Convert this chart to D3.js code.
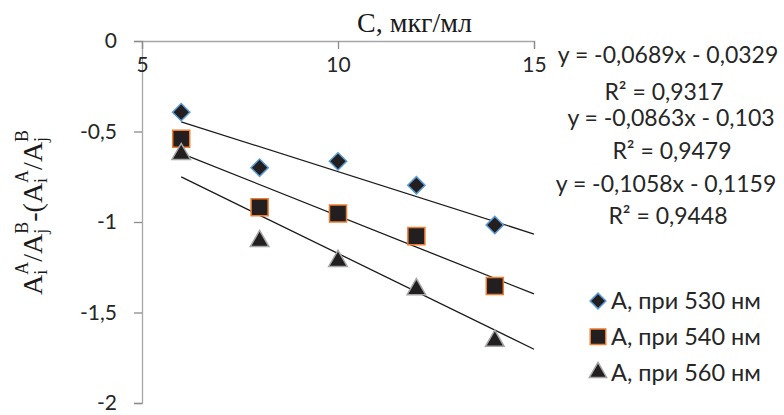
<!DOCTYPE html>
<html>
<head>
<meta charset="utf-8">
<script src="https://cdn.jsdelivr.net/npm/d3@7"></script>
<style>
  body { margin: 0; background: #fff; }
  svg { display: block; }
</style>
</head>
<body>
<div id="chart"></div>
<script>
// concentrations, C (мкг/мл)
var conc = [6, 8, 10, 12, 14];

// measured values for each wavelength
var a530 = [-0.393, -0.700, -0.665, -0.797, -1.017];
var a540 = [-0.540, -0.918, -0.953, -1.078, -1.354];
var a560 = [-0.625, -1.106, -1.216, -1.372, -1.657];

var seriesNames = ["A, при 530 нм", "A, при 540 нм", "A, при 560 нм"];

// trendline coefficients (slope, intercept) and R² as printed
var slopes = [-0.0689, -0.0863, -0.1058];
var intercepts = [-0.0329, -0.103, -0.1159];
var r2 = [0.9317, 0.9479, 0.9448];

var xTicks = [5, 10, 15];
var yTicks = [0, -0.5, -1, -1.5, -2];

var W = 784, H = 415;
var margin = { top: 41, left: 142 },
    width = 392,
    height = 362;

var svg = d3.select("#chart").append("svg")
    .attr("width", W)
    .attr("height", H);

var x = d3.scaleLinear().domain([5, 15]).range([margin.left, margin.left + width]);
var y = d3.scaleLinear().domain([0, -2]).range([margin.top, margin.top + height]);

var fmt = function(d) { return String(d).replace(".", ","); };
var numFont = "Lato, 'Open Sans', sans-serif";

// y axis
var yaxis = svg.append("g")
    .attr("transform", "translate(" + margin.left + ",0)")
    .call(d3.axisLeft(y).tickValues(yTicks).tickFormat(fmt).tickSize(8).tickPadding(17));

// x axis runs along y = 0, at the top
var xaxis = svg.append("g")
    .attr("transform", "translate(0," + y(0) + ")")
    .call(d3.axisBottom(x).tickValues(xTicks).tickSize(8).tickPadding(8));

[xaxis, yaxis].forEach(function(ax) {
    ax.select(".domain").attr("stroke", "#a6a6a6").attr("stroke-width", 1.3);
    ax.selectAll(".tick line").attr("stroke", "#8c8c8c").attr("stroke-width", 1.3);
    ax.selectAll("text")
        .attr("fill", "#262626")
        .attr("font-family", numFont)
        .attr("font-size", 21);
});

// trendlines, from first point to the end of the axis
var series = [a530, a540, a560];
var trend = svg.append("g");
for (var i = 0; i < series.length; i++) {
    var x0 = d3.min(conc), x1 = 15;
    trend.append("line")
        .attr("x1", x(x0))
        .attr("y1", y(slopes[i] * x0 + intercepts[i]))
        .attr("x2", x(x1))
        .attr("y2", y(slopes[i] * x1 + intercepts[i]))
        .attr("stroke", "#1a1a1a")
        .attr("stroke-width", 1.3);
}

// markers
var markers = [
    { type: d3.symbolSquare, size: 150, rotate: 45, stroke: "#5b9bd5" },
    { type: d3.symbolSquare, size: 290, rotate: 0, stroke: "#ed7d31" },
    { type: d3.symbolTriangle, size: 150, rotate: 0, stroke: "#a5a5a5" }
];
var legendMarkers = [
    { type: d3.symbolSquare, size: 125, rotate: 45, stroke: "#5b9bd5" },
    { type: d3.symbolSquare, size: 240, rotate: 0, stroke: "#ed7d31" },
    { type: d3.symbolTriangle, size: 130, rotate: 0, stroke: "#a5a5a5" }
];

series.forEach(function(vals, si) {
    var m = markers[si];
    svg.append("g").selectAll("path")
        .data(vals)
        .enter()
        .append("path")
        .attr("d", d3.symbol().type(m.type).size(m.size))
        .attr("transform", function(d, j) {
            return "translate(" + x(conc[j]) + "," + y(d) + ") rotate(" + m.rotate + ")";
        })
        .attr("fill", "#231f20")
        .attr("stroke", m.stroke)
        .attr("stroke-width", 1.5);
});

// trendline equations
var eqFont = 23;
var eqRows = [
    { t: "y = " + fmt(slopes[0]) + "x - " + fmt(-intercepts[0]), cx: 668, by: 63 },
    { t: "R² = " + fmt(r2[0]), cx: 664, by: 100 },
    { t: "y = " + fmt(slopes[1]) + "x - " + fmt(-intercepts[1]), cx: 671, by: 126 },
    { t: "R² = " + fmt(r2[1]), cx: 672, by: 159 },
    { t: "y = " + fmt(slopes[2]) + "x - " + fmt(-intercepts[2]), cx: 666, by: 192 },
    { t: "R² = " + fmt(r2[2]), cx: 668, by: 224 }
];
svg.append("g").selectAll("text")
    .data(eqRows)
    .enter()
    .append("text")
    .attr("x", function(d) { return d.cx; })
    .attr("y", function(d) { return d.by; })
    .attr("text-anchor", "middle")
    .attr("font-family", numFont)
    .attr("font-size", eqFont)
    .attr("fill", "#262626")
    .text(function(d) { return d.t; });

// legend
var legend = svg.append("g").attr("transform", "translate(598,301)");
seriesNames.forEach(function(name, i) {
    var m = legendMarkers[i];
    var row = legend.append("g").attr("transform", "translate(0," + (i * 35.7) + ")");
    row.append("path")
        .attr("d", d3.symbol().type(m.type).size(m.size))
        .attr("transform", "rotate(" + m.rotate + ")")
        .attr("fill", "#231f20")
        .attr("stroke", m.stroke)
        .attr("stroke-width", 1.5);
    row.append("text")
        .attr("x", 13)
        .attr("dy", "0.36em")
        .attr("font-family", numFont)
        .attr("font-size", 23.5)
        .attr("fill", "#262626")
        .text(name);
});

// x axis title
svg.append("text")
    .attr("x", 357)
    .attr("y", 32)
    .attr("font-family", "'Liberation Serif', 'Times New Roman', serif")
    .attr("font-size", 28)
    .attr("fill", "#1a1a1a")
    .text("C, мкг/мл");

// y axis title with stacked sub/superscripts
var yParts = [
    { t: "A", sub: "i", sup: "A" },
    { t: "/A", sub: "j", sup: "B" },
    { t: "-(A", sub: "i", sup: "A" },
    { t: "/A", sub: "j", sup: "B" }
];
var ytitle = svg.append("g")
    .attr("transform", "translate(42,295) rotate(-90)")
    .attr("font-family", "'Liberation Serif', 'Times New Roman', serif")
    .attr("fill", "#1a1a1a");
var cursor = 0;
yParts.forEach(function(p) {
    var main = ytitle.append("text").attr("x", cursor).attr("y", 0)
        .attr("font-size", 28).text(p.t);
    cursor += main.node().getComputedTextLength();
    var sb = ytitle.append("text").attr("x", cursor).attr("y", 5)
        .attr("font-size", 18).text(p.sub);
    var sp = ytitle.append("text").attr("x", cursor).attr("y", -14)
        .attr("font-size", 18).text(p.sup);
    cursor += Math.max(sb.node().getComputedTextLength(), sp.node().getComputedTextLength());
});
</script>
</body>
</html>
